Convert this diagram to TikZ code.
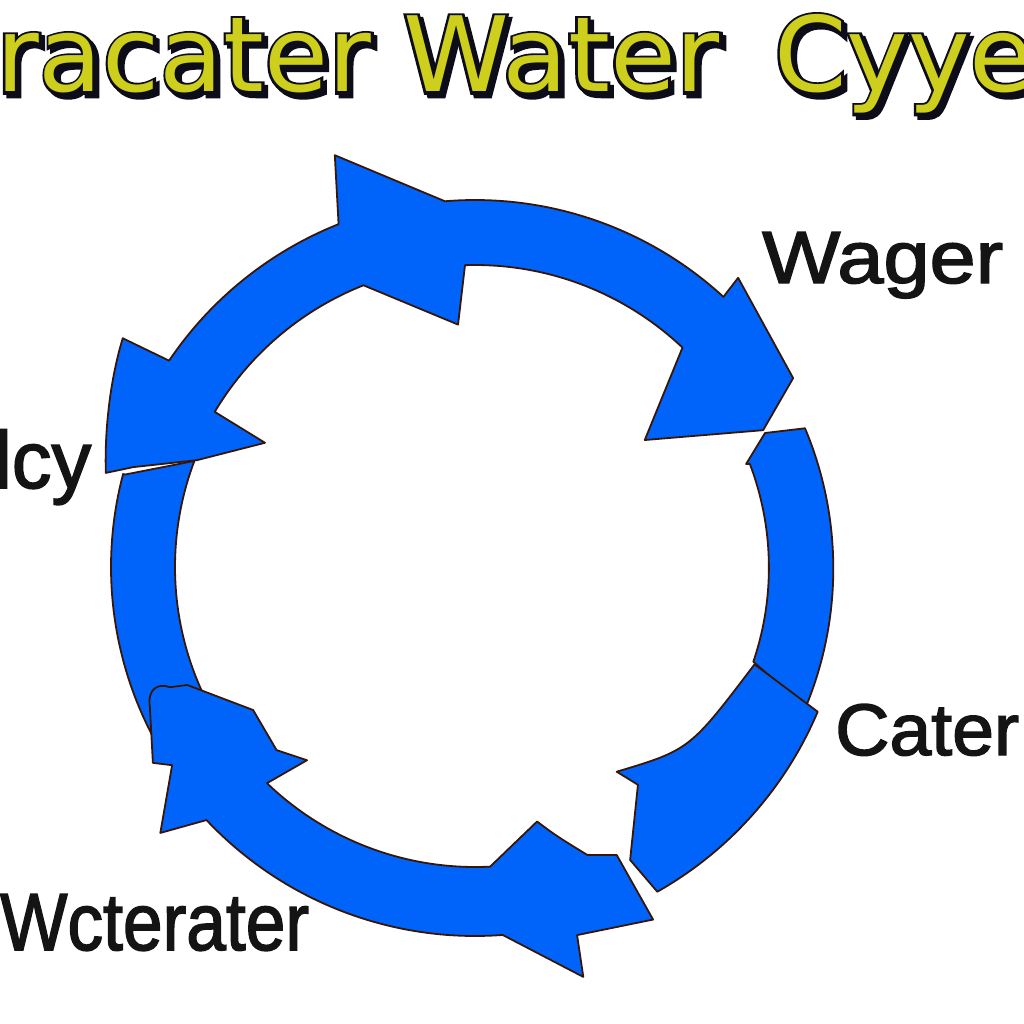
\documentclass[tikz,border=0pt]{standalone}
\usepackage{fontspec}
\setmainfont{Liberation Sans}
\newfontfamily\ttlfont{DejaVu Sans}
\newfontfamily\lblfont[FakeBold=2]{Liberation Sans}
\usepackage{graphicx}
\definecolor{ringblue}{RGB}{0,100,250}
\definecolor{ringedge}{RGB}{55,22,8}
\definecolor{titlefill}{RGB}{205,207,28}
\definecolor{titleshadow}{RGB}{25,25,55}
\definecolor{lbltext}{RGB}{20,20,20}
\newcommand\strokedtxt[2]{\special{pdf:literal direct 2 Tr #1 w 0.05 0.05 0.1 RG}#2\special{pdf:literal direct 0 Tr}}
\newcommand\ttlword[4]{% name, x, text, xscale
  \node[tw,text=titleshadow] at ([shift={(3.5,3.5)}]#2,92) {\scalebox{#4}[1]{\strokedtxt{5.5}{#3}}};
  \node[tw,text=black] at (#2,92) {\scalebox{#4}[1]{\strokedtxt{5.5}{#3}}};
  \node[tw,text=titlefill] (#1) at (#2,92) {\scalebox{#4}[1]{#3}};
}
\begin{document}
\begin{tikzpicture}[x=1pt,y=-1pt,
  piece/.style={fill=ringblue, draw=ringedge, line width=1.8pt, line join=round},
  tw/.style={anchor=base west, inner sep=0pt, font=\ttlfont\fontsize{104}{110}\selectfont},
  lbl/.style={anchor=base west, inner sep=0pt, text=lbltext}]
\useasboundingbox[fill=white] (0,0) rectangle (1024,1024);

% title
\ttlword{t1}{-4}{racater}{1}
\ttlword{t2}{403}{Water}{1.03}
\ttlword{t3}{774}{Cyye}{1}

\begin{scope}[shift={(475,567)}]
% B: left arc
\path[piece] (194.8:362) -- (200.7:300) arc[start angle=200.7, end angle=150, radius=300]
  -- (150:364) arc[start angle=150, end angle=194.8, radius=364] -- cycle;
% E: right arc
\path[piece] (-20.8:290) -- (-24.8:319.5) -- (-22.8:358)
  arc[start angle=-22.8, end angle=22.5, radius=362]
  -- (18.8:294) arc[start angle=18.8, end angle=-20.8, radius=292] -- cycle;
% D: lower right
\path[piece] (19.2:296) -- (22.9:372) arc[start angle=22.9, end angle=60.5, radius=374]
  -- (62.1:331.5) -- (53.2:272) -- (55.3:249)
  .. controls (40.4:282) .. (19.2:296) -- cycle;
% A: top arc with two heads
\path[piece] (214:369) -- (213:420)
  .. controls (207.1:410) and (200.3:395) .. (194.3:381)
  -- (196.3:356) -- (201:298) -- (210.6:244) -- (210.8:303)
  arc[start angle=210.8, end angle=248.4, radius=303]
  -- (266:243) -- (268.1:302)
  arc[start angle=268.1, end angle=313.4, radius=302]
  -- (323.2:212) -- (334.6:319) -- (329.3:370) -- (312.3:391) -- (312.6:367)
  arc[start angle=312.6, end angle=265.3, radius=367]
  -- (251.2:435) -- (248.3:369)
  arc[start angle=248.3, end angle=214, radius=369] -- cycle;
% C: lower left head + bottom arc
\path[piece] (156.7:354) .. controls (159.5:350) and (160:338) .. (158.5:328)
  -- (157.7:311) -- (147.2:264) -- (137.3:270) -- (131:256) -- (133.9:300)
  arc[start angle=133.9, end angle=87.1, radius=300]
  -- (76.3:262) .. controls (73:282) .. (68.7:309)
  -- (63.8:321) -- (63.2:395) -- (74.5:382) -- (75.2:424) -- (85.7:369)
  arc[start angle=85.7, end angle=136.7, radius=369]
  -- (139.8:412) -- (146.8:362) -- (148.7:377) -- cycle;
\end{scope}

% labels
\node[lbl, font=\lblfont\fontsize{74}{80}\selectfont] (wager) at (762,283) {\scalebox{1.12}[1]{Wager}};
\node[lbl, font=\lblfont\fontsize{81}{86}\selectfont] (lcy) at (-6,488) {\scalebox{0.98}[1]{lcy}};
\node[lbl, font=\lblfont\fontsize{73}{80}\selectfont] (cater) at (835,755) {\scalebox{1.03}[1]{Cater}};
\node[lbl, font=\lblfont\fontsize{81}{86}\selectfont] (wcterater) at (0,950) {\scalebox{0.88}[1]{Wcterater}};
\end{tikzpicture}
\end{document}
